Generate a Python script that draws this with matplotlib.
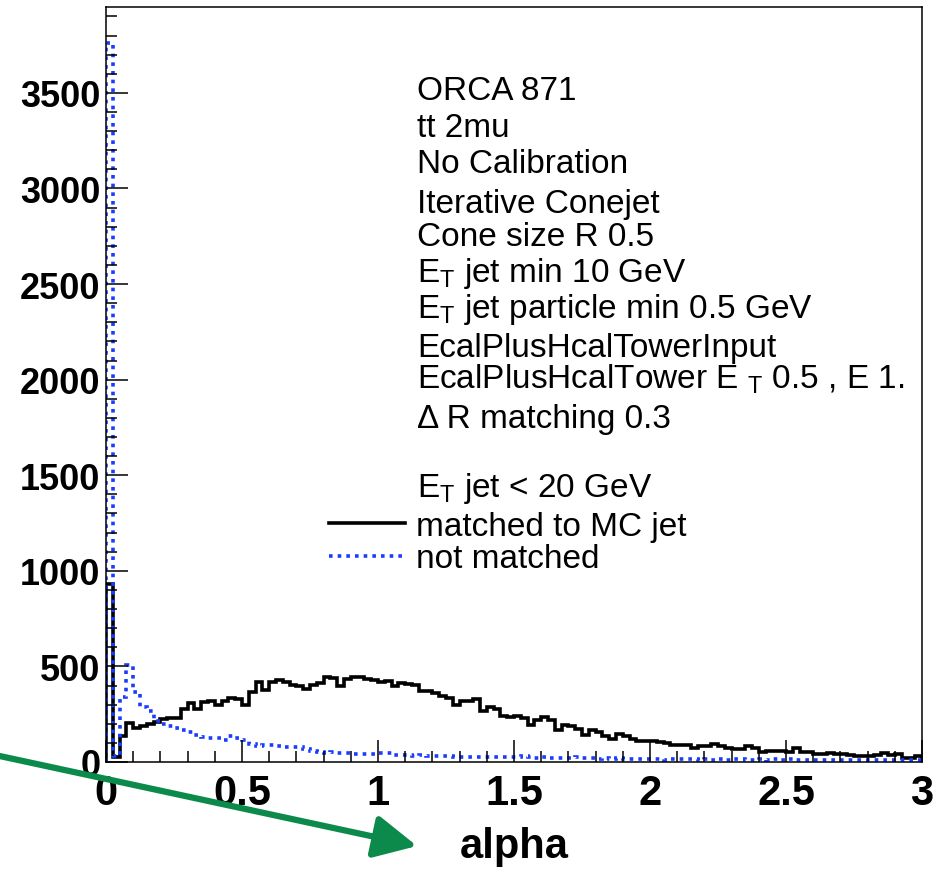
import numpy as np
import matplotlib
matplotlib.use("Agg")
import matplotlib.pyplot as plt
from matplotlib.lines import Line2D
from matplotlib.ticker import MultipleLocator

plt.rcParams['font.family'] = ['Liberation Sans', 'DejaVu Sans']
plt.rcParams['mathtext.fontset'] = 'custom'
plt.rcParams['mathtext.rm'] = 'Liberation Sans'
plt.rcParams['mathtext.it'] = 'Liberation Sans:italic'

# alpha histograms, 120 bins between 0 and 3
edges = np.linspace(0, 3, 121)

matched = [
    930, 24, 135, 204, 178, 189, 200, 210, 225, 231,
    232, 275, 310, 278, 315, 320, 300, 320, 335, 330,
    300, 365, 418, 379, 418, 431, 418, 405, 396, 383,
    404, 412, 447, 438, 400, 435, 443, 447, 435, 430,
    421, 426, 396, 414, 409, 405, 370, 370, 360, 347,
    335, 300, 318, 320, 330, 269, 286, 277, 239, 234,
    243, 231, 196, 220, 234, 220, 165, 194, 187, 173,
    142, 168, 156, 138, 121, 147, 135, 121, 108, 110,
    108, 103, 98, 89, 91, 89, 73, 82, 82, 94,
    82, 73, 68, 68, 86, 72, 54, 59, 59, 56,
    51, 72, 51, 51, 42, 42, 45, 42, 42, 37,
    33, 33, 30, 38, 45, 38, 42, 21, 21, 30,
]

not_matched = [
    3761, 33, 340, 505, 365, 290, 269, 215, 200, 188,
    180, 165, 156, 140, 130, 127, 125, 113, 138, 125,
    115, 95, 86, 89, 89, 86, 80, 77, 77, 68,
    60, 51, 45, 51, 45, 45, 42, 42, 40, 40,
    45, 48, 38, 37, 36, 33, 34, 32, 30, 30,
    30, 25, 24, 24, 26, 28, 27, 24, 25, 27,
    28, 30, 25, 22, 25, 20, 22, 20, 20, 24,
    20, 20, 18, 20, 17, 20, 18, 15, 17, 16,
    17, 15, 12, 16, 15, 14, 17, 12, 15, 13,
    16, 12, 14, 16, 12, 13, 15, 11, 14, 12,
    14, 10, 13, 12, 11, 13, 12, 10, 12, 11,
    9, 12, 10, 11, 9, 12, 8, 10, 9, 11,
]

info_lines = [
    "ORCA 871",
    "tt 2mu",
    "No Calibration",
    "Iterative Conejet",
    "Cone size R 0.5",
    r"E$_\mathrm{T}$ jet min 10 GeV",
    r"E$_\mathrm{T}$ jet particle min 0.5 GeV",
    "EcalPlusHcalTowerInput",
    r"EcalPlusHcalTower E $_\mathrm{T}$ 0.5 , E 1.",
    "Δ R matching 0.3",
    r"E$_\mathrm{T}$ jet < 20 GeV",
]
legend_labels = ["matched to MC jet", "not matched"]

black = "black"
blue = "#1a3cff"
green = "#0b8a4c"
dots = (0, (1, 1.4))

fig = plt.figure(figsize=(9.47, 8.7), dpi=100)
ax = fig.add_axes([0.1119, 0.123, 0.8617, 0.868])

ax.stairs(matched, edges, baseline=0, color=black, lw=2.6)
ax.stairs(not_matched, edges, baseline=0, color=blue, lw=2.6, linestyle=dots)

ax.set_xlim(0, 3)
ax.set_ylim(0, 3950)

ax.xaxis.set_major_locator(MultipleLocator(0.5))
ax.xaxis.set_minor_locator(MultipleLocator(0.1))
ax.yaxis.set_major_locator(MultipleLocator(500))
ax.yaxis.set_minor_locator(MultipleLocator(100))
ax.xaxis.set_major_formatter(plt.FuncFormatter(lambda v, p: f"{v:g}"))

ax.tick_params(which='both', direction='in', top=False, right=False, width=1.1)
ax.tick_params(which='major', length=16)
ax.tick_params(which='minor', length=8)
ax.tick_params(axis='x', which='major', pad=8)
ax.tick_params(axis='y', which='major', pad=4)
for lab in ax.get_yticklabels():
    lab.set_fontsize(26)
    lab.set_fontweight('bold')
for lab in ax.get_xticklabels():
    lab.set_fontsize(30)
    lab.set_fontweight('bold')
for sp in ax.spines.values():
    sp.set_linewidth(1.1)

ax.set_xlabel("alpha", fontsize=30, fontweight='bold', labelpad=9)

# text block (baselines in axes fraction)
ys = [0.878, 0.8295, 0.781, 0.728, 0.684, 0.6375, 0.589, 0.5382, 0.4963, 0.4433, 0.3527]
for txt, y in zip(info_lines, ys):
    ax.text(0.381, y, txt, transform=ax.transAxes, fontsize=24, va='baseline', ha='left')

handles = [Line2D([], [], color=black, lw=2.6),
           Line2D([], [], color=blue, lw=2.6, linestyle=dots)]
ax.legend(handles, legend_labels, loc='upper left', bbox_to_anchor=(0.273, 0.333),
          frameon=False, fontsize=24, handlelength=2.3, handletextpad=0.33,
          borderpad=0, borderaxespad=0, labelspacing=0.05)

# green arrow pointing at the axis label
ax.annotate("", xy=(417, 23), xytext=(-5, 114), xycoords='figure pixels',
            textcoords='figure pixels', annotation_clip=False,
            arrowprops=dict(arrowstyle='-|>,head_length=1.3,head_width=0.65',
                            mutation_scale=20, lw=4.5, color=green,
                            shrinkA=0, shrinkB=0))

fig.savefig("out.png", dpi=100)
